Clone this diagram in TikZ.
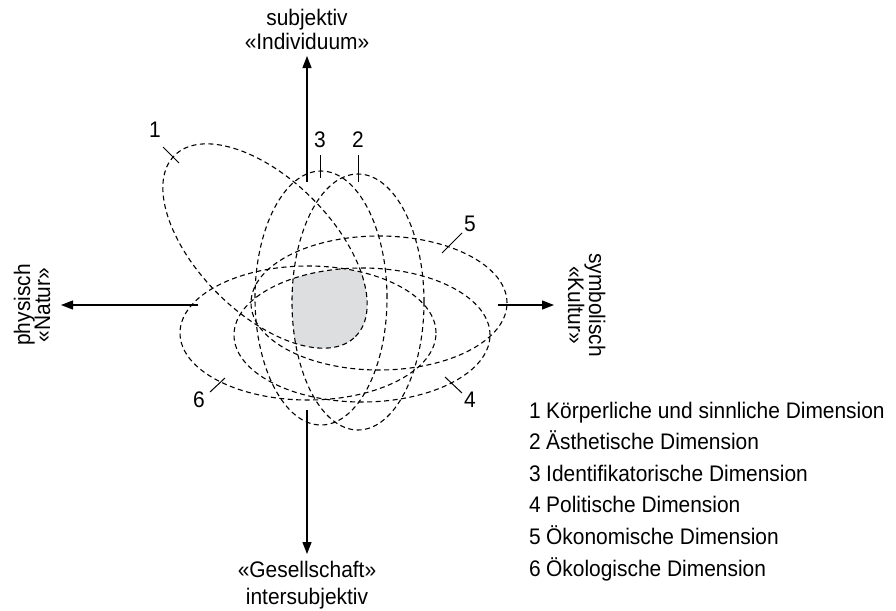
\documentclass[tikz,border=0pt]{standalone}
\usepackage{fontspec}
\setmainfont[FakeStretch=0.93]{Liberation Sans}
\usetikzlibrary{arrows.meta}
\definecolor{coreshade}{RGB}{221,222,224}
\begin{document}
\begin{tikzpicture}[x=1pt,y=1pt,
  txt/.style={font=\fontsize{22.5}{27}\selectfont, inner sep=0pt},
  dimcurve/.style={line width=1.1pt, dash pattern=on 5pt off 3.5pt},
  axisarrow/.style={line width=1.3pt, -{Triangle[length=12pt,width=9pt]}},
  tickmark/.style={line width=1pt}]
\useasboundingbox (0,0) rectangle (896,-610);

% centres of the six dimension ellipses
\coordinate (c1) at (265,-246);
\coordinate (c2) at (358,-302);
\coordinate (c3) at (321,-298);
\coordinate (c4) at (362,-335);
\coordinate (c5) at (379,-303);
\coordinate (c6) at (308,-333);

% shaded common core
\begin{scope}
  \clip (c2) ellipse[x radius=66, y radius=128];
  \clip (c3) ellipse[x radius=66, y radius=127];
  \clip (c4) ellipse[x radius=128, y radius=67];
  \clip (c5) ellipse[x radius=128, y radius=67];
  \clip (c6) ellipse[x radius=128, y radius=67];
  \begin{scope}[rotate around={-45:(c1)}]
    \fill[coreshade] (c1) ellipse[x radius=128, y radius=67];
  \end{scope}
\end{scope}

% dashed ellipses
\begin{scope}[rotate around={-45:(c1)}]
  \draw[dimcurve] (c1) ellipse[x radius=128, y radius=67];
\end{scope}
\draw[dimcurve] (c2) ellipse[x radius=66, y radius=128];
\draw[dimcurve] (c3) ellipse[x radius=66, y radius=127];
\draw[dimcurve] (c4) ellipse[x radius=128, y radius=67];
\draw[dimcurve] (c5) ellipse[x radius=128, y radius=67];
\draw[dimcurve] (c6) ellipse[x radius=128, y radius=67];

% axes
\coordinate (vtopstart) at (307,-182);
\coordinate (vtopend) at (307,-56);
\coordinate (vbotstart) at (307,-410);
\coordinate (vbotend) at (307,-554);
\coordinate (hleftstart) at (198,-305);
\coordinate (hleftend) at (61,-305);
\coordinate (hrightstart) at (498,-305);
\coordinate (hrightend) at (554,-305);
\draw[axisarrow] (vtopstart) -- (vtopend);
\draw[axisarrow] (vbotstart) -- (vbotend);
\draw[axisarrow] (hleftstart) -- (hleftend);
\draw[axisarrow] (hrightstart) -- (hrightend);

% axis labels
\node[txt, anchor=base] (subj) at (307,-26) {subjektiv};
\node[txt, anchor=base] (indiv) at (307,-50) {«Individuum»};
\node[txt, anchor=base] (gesell) at (307,-577) {«Gesellschaft»};
\node[txt, anchor=base] (inter) at (307,-604) {intersubjektiv};
\node[txt, anchor=base, rotate=90] (phys) at (30,-305) {physisch};
\node[txt, anchor=base, rotate=90] (natur) at (50,-305) {«Natur»};
\node[txt, anchor=base, rotate=-90] (symb) at (589,-305) {symbolisch};
\node[txt, anchor=base, rotate=-90] (kultur) at (568,-305) {«Kultur»};

% tick marks and numbers
\coordinate (tk1a) at (163,-147); \coordinate (tk1b) at (179,-163);
\coordinate (tk3a) at (320,-155); \coordinate (tk3b) at (320,-178);
\coordinate (tk2a) at (358,-155); \coordinate (tk2b) at (358,-182);
\coordinate (tk5a) at (442,-253); \coordinate (tk5b) at (462,-233);
\coordinate (tk4a) at (445,-377); \coordinate (tk4b) at (462,-393);
\coordinate (tk6a) at (210,-392); \coordinate (tk6b) at (225,-378);
\draw[tickmark] (tk1a) -- (tk1b);
\draw[tickmark] (tk3a) -- (tk3b);
\draw[tickmark] (tk2a) -- (tk2b);
\draw[tickmark] (tk5a) -- (tk5b);
\draw[tickmark] (tk4a) -- (tk4b);
\draw[tickmark] (tk6a) -- (tk6b);
\node[txt] (n1) at (155,-130) {1};
\node[txt] (n3) at (320,-140) {3};
\node[txt] (n2) at (358,-140) {2};
\node[txt] (n5) at (470,-224) {5};
\node[txt] (n4) at (470,-400) {4};
\node[txt] (n6) at (199,-400) {6};

% legend
\foreach \i/\t [count=\k] in {1/Körperliche und sinnliche Dimension,
  2/Ästhetische Dimension, 3/Identifikatorische Dimension,
  4/Politische Dimension, 5/Ökonomische Dimension, 6/Ökologische Dimension}{
  \node[txt, anchor=base west] (legnum\k) at (529,{-418-31.6*(\k-1)}) {\i};
  \node[txt, anchor=base west] (legtxt\k) at (546,{-418-31.6*(\k-1)}) {\t};
}
\end{tikzpicture}
\end{document}
